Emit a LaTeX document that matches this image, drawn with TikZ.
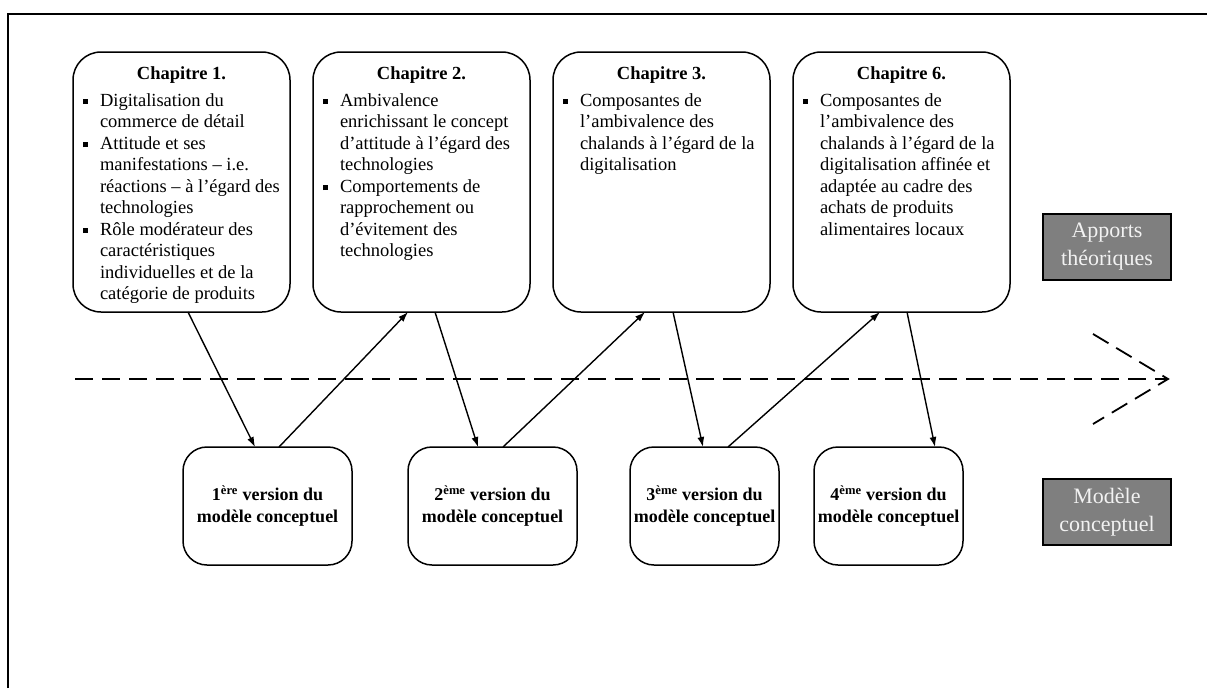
\documentclass[tikz,border=0pt]{standalone}
\usepackage{fontspec}
\setmainfont{Liberation Serif}
\usetikzlibrary{arrows.meta, positioning}

\definecolor{greyfill}{RGB}{127,127,127}
\definecolor{greytext}{RGB}{242,242,242}

% bullet item with hanging indent
\newcommand{\puce}{\par\hangindent=17pt\hangafter=1\noindent\makebox[17pt][l]{\rule[2pt]{5pt}{5pt}}}
\newcommand{\chaptext}[2]{\parbox[c][260pt][t]{217pt}{\centering\rule{0pt}{27pt}\textbf{#1}\par\vspace{5.5pt}\raggedright\leftskip=10pt #2}}

\begin{document}
\begin{tikzpicture}[
x=1pt, y=-1pt,
every node/.style={font=\fontsize{18.5}{21.5}\selectfont},
chapbox/.style={rectangle, rounded corners=28pt, draw=black, line width=1.5pt, inner sep=0pt, outer sep=0pt},
verbox/.style={rectangle, rounded corners=24pt, draw=black, line width=1.5pt, align=center, minimum height=118pt, outer sep=0pt, font=\fontsize{18}{21.5}\selectfont\bfseries},
greybox/.style={rectangle, draw=black, line width=1.5pt, fill=greyfill, text=greytext, align=center, minimum width=128pt, minimum height=66pt, inner sep=2pt, font=\fontsize{22}{28}\selectfont},
line/.style={-{Latex[length=10pt,width=7pt]}, line width=1.4pt},
flux/.style={line width=1.8pt, dash pattern=on 18pt off 9pt, line cap=butt, line join=miter}
]
\useasboundingbox (0,0) rectangle (1207,688);

% cadre
\draw[line width=2pt] (8,688) -- (8,14) -- (1207,14);

% apports theoriques
\node[chapbox, anchor=north west] (chap1) at (73,52) {\chaptext{Chapitre 1.}{%
\puce Digitalisation du\newline commerce de détail
\puce Attitude et ses\newline manifestations – i.e.\newline réactions – à l’égard des\newline technologies
\puce Rôle modérateur des\newline caractéristiques\newline individuelles et de la\newline catégorie de produits}};
\node[chapbox, right=23pt of chap1] (chap2) {\chaptext{Chapitre 2.}{%
\puce Ambivalence\newline enrichissant le concept\newline d’attitude à l’égard des\newline technologies
\puce Comportements de\newline rapprochement ou\newline d’évitement des\newline technologies}};
\node[chapbox, right=23pt of chap2] (chap3) {\chaptext{Chapitre 3.}{%
\puce Composantes de\newline l’ambivalence des\newline chalands à l’égard de la\newline digitalisation}};
\node[chapbox, right=23pt of chap3] (chap6) {\chaptext{Chapitre 6.}{%
\puce Composantes de\newline l’ambivalence des\newline chalands à l’égard de la\newline digitalisation affinée et\newline adaptée au cadre des\newline achats de produits\newline alimentaires locaux}};

% versions du modele
\node[verbox, minimum width=169pt, anchor=north west] (ver1) at (183,447) {1\textsuperscript{ère} version du\\modèle conceptuel};
\node[verbox, minimum width=169pt, right=56pt of ver1] (ver2) {2\textsuperscript{ème} version du\\modèle conceptuel};
\node[verbox, minimum width=149pt, right=53pt of ver2] (ver3) {3\textsuperscript{ème} version du\\modèle conceptuel};
\node[verbox, minimum width=149pt, right=35pt of ver3] (ver4) {4\textsuperscript{ème} version du\\modèle conceptuel};

% etiquettes
\node[greybox] (apports) at (1107,247) {Apports\\théoriques};
\node[greybox] (modele) at (1107,512) {Modèle\\conceptuel};

% fleche du temps
\coordinate (fluxstart) at (75,379);
\coordinate (fluxend) at (1168,379);
\draw[flux] (fluxstart) -- (fluxend);
\draw[flux] ([shift={(-75,-45)}]fluxend) -- (fluxend) -- ([shift={(-75,45)}]fluxend);

\draw[line] ([xshift=115pt]chap1.south west) -- ([xshift=72pt]ver1.north west);
\draw[line] ([xshift=96pt]ver1.north west) -- ([xshift=95pt]chap2.south west);
\draw[line] ([xshift=122pt]chap2.south west) -- ([xshift=70pt]ver2.north west);
\draw[line] ([xshift=95pt]ver2.north west) -- ([xshift=92pt]chap3.south west);
\draw[line] ([xshift=120pt]chap3.south west) -- ([xshift=73pt]ver3.north west);
\draw[line] ([xshift=98pt]ver3.north west) -- ([xshift=87pt]chap6.south west);
\draw[line] ([xshift=114pt]chap6.south west) -- ([xshift=121pt]ver4.north west);
\end{tikzpicture}
\end{document}
